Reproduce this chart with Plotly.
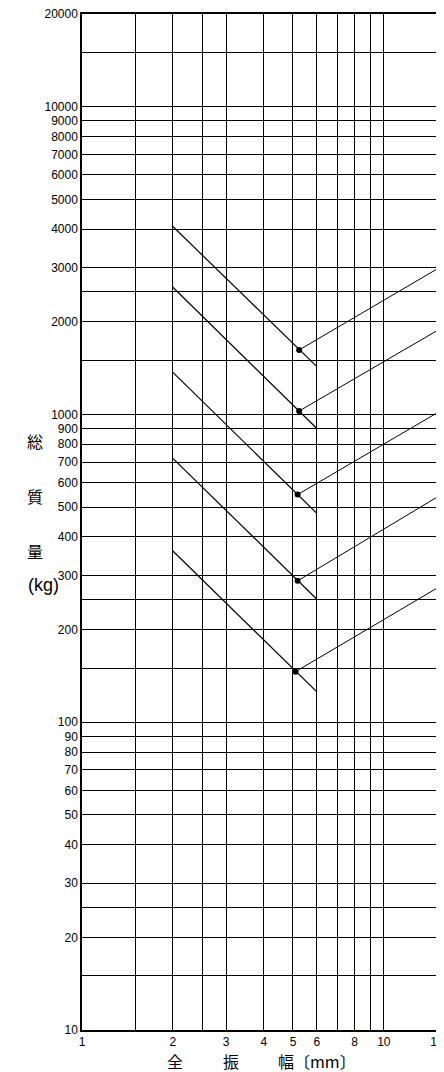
import math
import plotly.graph_objects as go

# --- data ---
x_grid = [1, 1.5, 2, 2.5, 3, 4, 5, 6, 7, 8, 9, 10, 15]
x_labels = ["1", "", "2", "", "3", "4", "5", "6", "", "8", "", "10", "15"]

y_grid = [10, 15, 20, 25, 30, 40, 50, 60, 70, 80, 90,
          100, 150, 200, 250, 300, 400, 500, 600, 700, 800, 900,
          1000, 1500, 2000, 2500, 3000, 4000, 5000, 6000, 7000, 8000, 9000,
          10000, 15000, 20000]
y_labels = ["10", "", "20", "", "30", "40", "50", "60", "70", "80", "90",
            "100", "", "200", "", "300", "400", "500", "600", "700", "800", "900",
            "1000", "", "2000", "", "3000", "4000", "5000", "6000", "7000", "8000", "9000",
            "10000", "", "20000"]

desc_x = [2, 6]
desc_start_y = [4080, 2590, 1370, 720, 360]
desc_end_y = [1430, 900, 477, 251, 125.5]

dot_x = [5.24, 5.24, 5.18, 5.18, 5.10]
dot_y = [1620, 1026, 549, 288, 146]

rise_end_x = 15.8
rise_end_y = [3058, 1928, 1042, 555, 281]

fig = go.Figure()

for ys, ye in zip(desc_start_y, desc_end_y):
    fig.add_trace(go.Scatter(x=desc_x, y=[ys, ye], mode="lines",
                             line=dict(color="black", width=1.2),
                             showlegend=False, hoverinfo="skip"))

for dx, dy, ry in zip(dot_x, dot_y, rise_end_y):
    fig.add_trace(go.Scatter(x=[dx, rise_end_x], y=[dy, ry], mode="lines",
                             line=dict(color="black", width=1),
                             showlegend=False, hoverinfo="skip"))

fig.add_trace(go.Scatter(x=dot_x, y=dot_y, mode="markers",
                         marker=dict(color="black", size=6),
                         showlegend=False, hoverinfo="skip", cliponaxis=False))

# page has an 8px body margin; compensate so the plot area sits at 82..437 x 14..1030
OFF = 8
W, H = 444 - OFF, 1072 - OFF
L, T = 82 - OFF, 14 - OFF
pw, ph = 355, 1016
R = W - L - pw
B = H - T - ph


def px(x):
    return (x - OFF - L) / pw


def py(y):
    return (T + ph - (y - OFF)) / ph


annots = []
ja = "Noto Sans CJK JP"
for txt, yy in [("総", 441), ("質", 496), ("量", 551)]:
    annots.append(dict(text=txt, x=px(25), y=py(yy), xref="paper", yref="paper",
                       showarrow=False, font=dict(family=ja, size=16, color="black")))
annots.append(dict(text="(kg)", x=px(26), y=py(585), xref="paper", yref="paper",
                   showarrow=False,
                   font=dict(family="Liberation Sans, Arial, sans-serif", size=18, color="black")))
for txt, xx in [("全", 175), ("振", 231), ("幅", 286), ("〔mm〕", 325)]:
    annots.append(dict(text=txt, x=px(xx), y=py(1060.5), xref="paper", yref="paper",
                       xanchor="center", yanchor="middle", showarrow=False,
                       font=dict(family=ja, size=16, color="black")))

fig.update_layout(
    width=W, height=H,
    margin=dict(l=L, r=R, t=T, b=B, autoexpand=False),
    paper_bgcolor="white", plot_bgcolor="white",
    font=dict(family="Liberation Sans, Arial, sans-serif", size=12, color="black"),
    annotations=annots,
    xaxis=dict(type="log", range=[0, math.log10(15)], automargin=False,
               ticklabeloverflow="allow",
               tickvals=x_grid, ticktext=x_labels,
               showgrid=True, gridcolor="black", gridwidth=1,
               showline=True, linecolor="black", linewidth=1.5, mirror=True,
               ticks="", zeroline=False, tickfont=dict(size=12)),
    yaxis=dict(type="log", range=[1, math.log10(20000)], automargin=False,
               ticklabeloverflow="allow",
               tickvals=y_grid, ticktext=y_labels,
               showgrid=True, gridcolor="black", gridwidth=1,
               showline=True, linecolor="black", linewidth=1.5, mirror=True,
               ticks="", zeroline=False, tickfont=dict(size=12)),
)

fig.write_html("out.html")
